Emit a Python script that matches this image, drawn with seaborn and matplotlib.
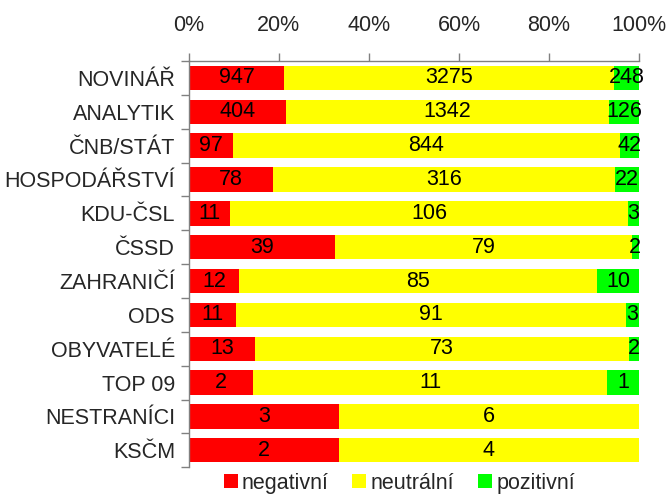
import numpy as np
import pandas as pd
import matplotlib
matplotlib.use("Agg")
import matplotlib.pyplot as plt
import seaborn as sns
from matplotlib.patches import Patch

categories = ["NOVINÁŘ", "ANALYTIK", "ČNB/STÁT", "HOSPODÁŘSTVÍ", "KDU-ČSL", "ČSSD",
              "ZAHRANIČÍ", "ODS", "OBYVATELÉ", "TOP 09", "NESTRANÍCI", "KSČM"]
negativni = [947, 404, 97, 78, 11, 39, 12, 11, 13, 2, 3, 2]
neutralni = [3275, 1342, 844, 316, 106, 79, 85, 91, 73, 11, 6, 4]
pozitivni = [248, 126, 42, 22, 3, 2, 10, 3, 2, 1, 0, 0]
series_names = ["negativní", "neutrální", "pozitivní"]
colors = ["#FF0000", "#FFFF00", "#00FF00"]

sns.set_theme(style="white")
plt.rcParams["font.family"] = ["Liberation Sans", "DejaVu Sans"]

df = pd.DataFrame({"kat": categories, "neg": negativni, "neu": neutralni, "poz": pozitivni})
total = df[["neg", "neu", "poz"]].sum(axis=1)
df["p_neg"] = df["neg"] / total * 100
df["p_neu"] = df["neu"] / total * 100
df["p_poz"] = df["poz"] / total * 100
df["c1"] = df["p_neg"]
df["c2"] = df["p_neg"] + df["p_neu"]
df["c3"] = df["c2"] + df["p_poz"]

fs = 15.5

fig = plt.figure(figsize=(6.72, 4.96), dpi=100)
ax = fig.add_axes([0.281, 0.058, 0.670, 0.819])

# stacked via overlapping cumulative bars
for col, c in [("c3", colors[2]), ("c2", colors[1]), ("c1", colors[0])]:
    sns.barplot(data=df, x=col, y="kat", orient="h", color=c, width=0.72,
                saturation=1, ax=ax, linewidth=0)

# value labels in the middle of each segment
for i, row in df.iterrows():
    start = 0
    for val, pct in [(row["neg"], row["p_neg"]), (row["neu"], row["p_neu"]), (row["poz"], row["p_poz"])]:
        if val > 0:
            ax.text(start + pct / 2, i, str(int(val)), ha="center", va="center",
                    fontsize=fs, color="black")
        start += pct

ax.set_xlim(0, 100)
ax.set_ylim(len(categories) - 0.5, -0.5)
ax.set_xlabel("")
ax.set_ylabel("")
ax.xaxis.tick_top()
ax.set_xticks([0, 20, 40, 60, 80, 100])
ax.set_xticklabels(["0%", "20%", "40%", "60%", "80%", "100%"])
ax.tick_params(axis="x", which="major", direction="out", length=6, width=1,
               color="#808080", pad=12, labelsize=fs, top=True, bottom=False)
ax.set_yticks(range(len(categories)))
ax.set_yticklabels(categories)
ax.set_yticks(np.arange(-0.5, len(categories), 1), minor=True)
ax.tick_params(axis="y", which="major", length=0, pad=10, labelsize=fs)
ax.tick_params(axis="y", which="minor", direction="out", length=6, width=1,
               color="#808080", left=True)

for s in ["right", "bottom"]:
    ax.spines[s].set_visible(False)
for s in ["top", "left"]:
    ax.spines[s].set_color("#808080")
    ax.spines[s].set_linewidth(1)

handles = [Patch(facecolor=c, edgecolor="none") for c in colors]
fig.legend(handles, series_names, loc="center", bbox_to_anchor=(0.594, 0.026),
           ncol=3, frameon=False, fontsize=fs, handlelength=0.65, handleheight=0.65,
           handletextpad=0.2, columnspacing=1.1, borderpad=0)

fig.savefig("out.png", dpi=100)
